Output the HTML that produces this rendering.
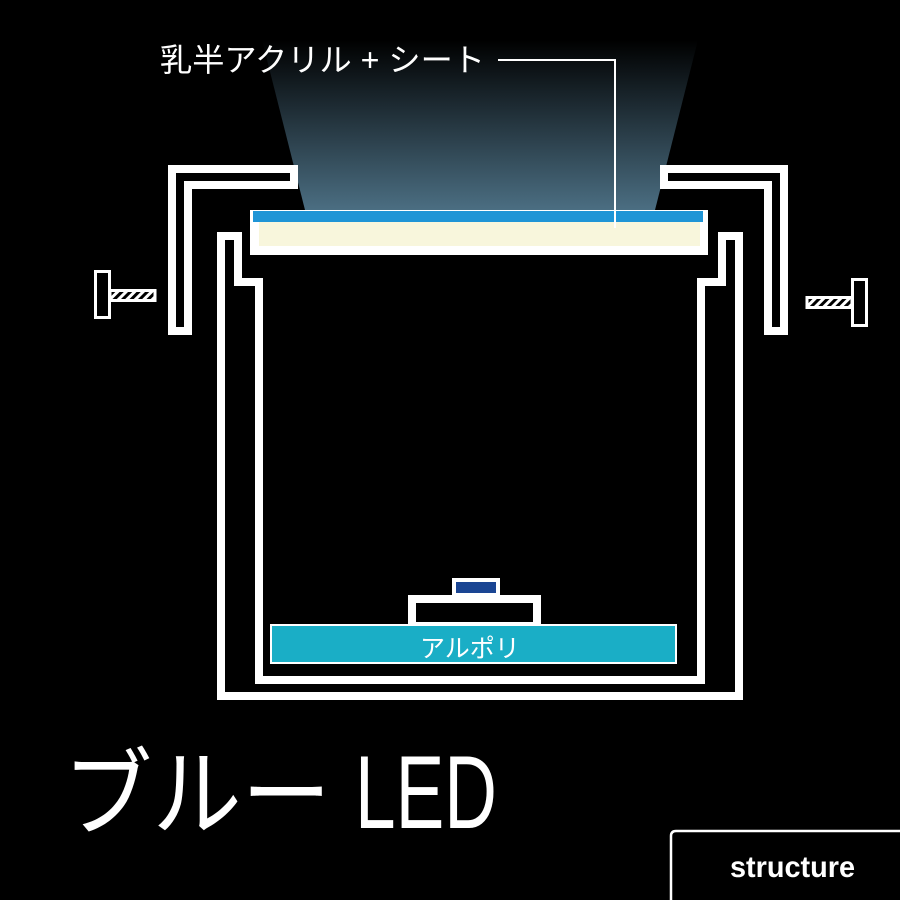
<!DOCTYPE html>
<html><head><meta charset="utf-8"><style>
html,body{margin:0;padding:0;background:#000;}
svg{display:block;}
text{font-family:"Liberation Sans","Noto Sans CJK JP",sans-serif;fill:#fff;}
</style></head><body>
<svg width="900" height="900" viewBox="0 0 900 900" xmlns="http://www.w3.org/2000/svg">
<defs>
<linearGradient id="beam" x1="0" y1="0" x2="0" y2="1">
<stop offset="0" stop-color="#000"/>
<stop offset="1" stop-color="#4b6e82"/>
</linearGradient>
<pattern id="hatch" width="6" height="6" patternUnits="userSpaceOnUse" patternTransform="rotate(45)">
<rect width="6" height="6" fill="#000"/><rect width="3" height="6" fill="#fff"/>
</pattern>
</defs>
<rect width="900" height="900" fill="#000"/>
<polygon points="262,40 698,40 655,210 305,210" fill="url(#beam)"/>
<polyline points="180,335 180,177 298,177" fill="none" stroke="#fff" stroke-width="24"/>
<polyline points="180,327 180,177 290,177" fill="none" stroke="#000" stroke-width="8"/>
<polyline points="776,335 776,177 660,177" fill="none" stroke="#fff" stroke-width="24"/>
<polyline points="776,327 776,177 668,177" fill="none" stroke="#000" stroke-width="8"/>
<rect x="250" y="210" width="458" height="45" fill="#fff"/>
<rect x="253" y="211" width="450" height="11" fill="#1f95d6"/>
<rect x="259" y="222" width="441" height="24" fill="#f8f6dc"/>
<polygon points="221,236 238,236 238,282 259,282 259,680 701,680 701,282 722,282 722,236 739,236 739,696 221,696" fill="#000" stroke="#fff" stroke-width="8"/>
<polyline points="498,60 615,60 615,228" fill="none" stroke="#fff" stroke-width="2"/>
<text x="160" y="71" font-size="32" textLength="325" lengthAdjust="spacingAndGlyphs">乳半アクリル + シート</text>
<rect x="95.5" y="271.5" width="14" height="46" fill="#000" stroke="#fff" stroke-width="3"/>
<rect x="110" y="290.5" width="45" height="10" fill="url(#hatch)" stroke="#fff" stroke-width="3"/>
<rect x="852.5" y="279.5" width="14" height="46" fill="#000" stroke="#fff" stroke-width="3"/>
<rect x="807" y="297.5" width="45" height="10" fill="url(#hatch)" stroke="#fff" stroke-width="3"/>
<rect x="452" y="578" width="48" height="18" fill="#fff"/>
<rect x="456" y="582" width="40" height="11" fill="#1a4593"/>
<rect x="412" y="599" width="125" height="27" fill="#000" stroke="#fff" stroke-width="8"/>
<rect x="271" y="625" width="405" height="38" fill="#1aaec6" stroke="#fff" stroke-width="2"/>
<text x="420" y="657" font-size="25">アルポリ</text>
<text x="63" y="828" font-size="96" textLength="268" lengthAdjust="spacingAndGlyphs">ブルー</text>
<text x="355" y="828" font-size="104" textLength="142" lengthAdjust="spacingAndGlyphs">LED</text>
<path d="M671,900 V836 Q671,831 676,831 H900" fill="none" stroke="#fff" stroke-width="2.5"/>
<text x="730" y="877" font-size="30" font-weight="bold" textLength="125" lengthAdjust="spacingAndGlyphs">structure</text>
</svg>
</body></html>
